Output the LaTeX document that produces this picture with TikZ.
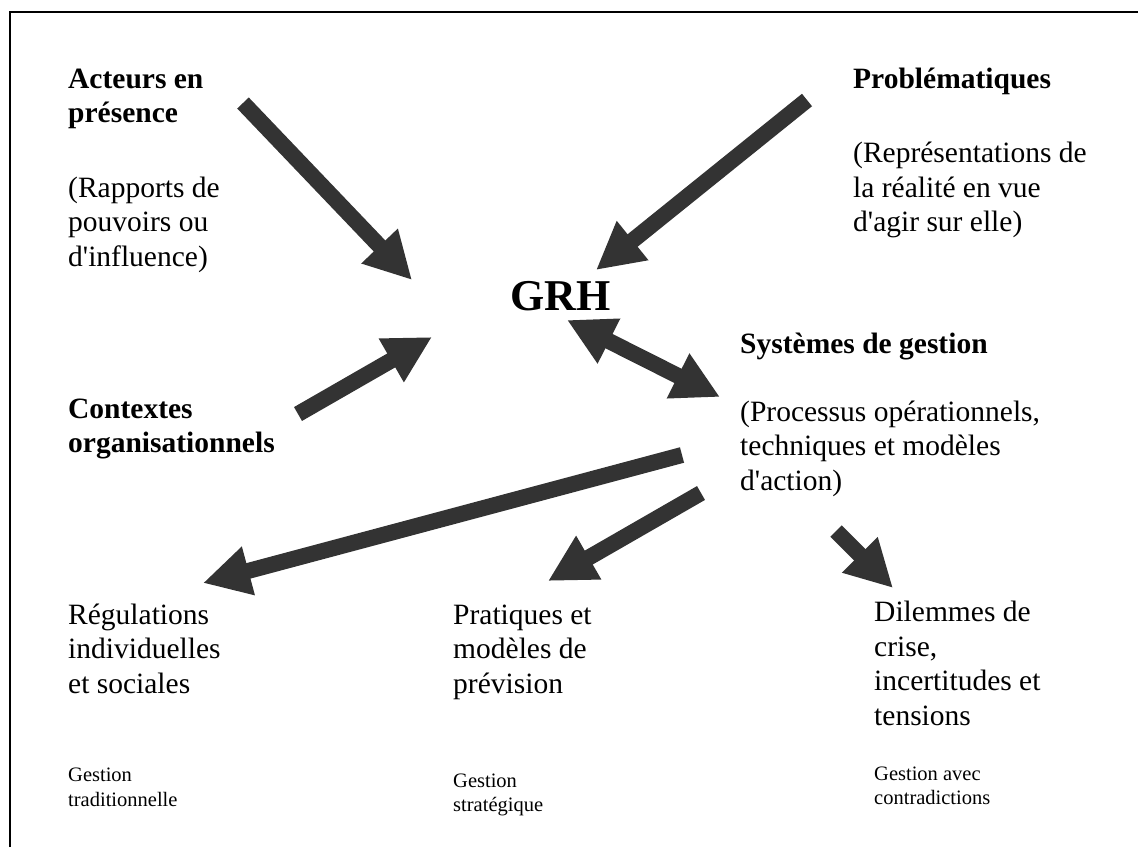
\documentclass[tikz,border=0pt]{standalone}
\usepackage{fontspec}
\setmainfont{Liberation Serif}
\usetikzlibrary{arrows.meta}
\tikzset{
	bloc/.style={anchor=base west, inner sep=0pt, align=left, font=\fontsize{29.5}{34.5}\selectfont},
	petit/.style={bloc, font=\fontsize{20.5}{24.5}\selectfont},
	pointe/.tip={Triangle[width=47pt,length=47pt]},
	fleche/.style={line width=16pt, draw=black!80, -pointe},
	fleche double/.style={fleche, pointe-pointe}
}
\newcommand{\apos}{\textquotesingle}
\begin{document}
\begin{tikzpicture}[x=1pt, y=-1pt]
			\useasboundingbox (0,0) rectangle (1138,847);
			\draw [line width=1.5pt] (10,847) -- (10,12) -- (1138,12);
			\node (acteurs) [bloc] at (68,266) {\textbf{Acteurs en}\\\textbf{présence}\\[40pt](Rapports de\\pouvoirs ou\\d\apos influence)};
			\node (problematiques) [bloc] at (853,231.5) {\textbf{Problématiques}\\[40pt](Représentations de\\la réalité en vue\\d\apos agir sur elle)};
			\node (grh) [bloc, font=\fontsize{44}{50}\selectfont\bfseries] at (510,310) {GRH};
			\node (contextes) [bloc] at (68,452.5) {\textbf{Contextes}\\\textbf{organisationnels}};
			\node (systemes) [bloc] at (740,490) {\textbf{Systèmes de gestion}\\[33.5pt](Processus opérationnels,\\techniques et modèles\\d\apos action)};
			\node (regulations) [bloc] at (68,693) {Régulations\\individuelles\\et sociales};
			\node (pratiques) [bloc] at (453,693) {Pratiques et\\modèles de\\prévision};
			\node (dilemmes) [bloc] at (874,725) {Dilemmes de\\crise,\\incertitudes et\\tensions};
			\node (traditionnelle) [petit] at (68,806) {Gestion\\traditionnelle};
			\node (strategique) [petit] at (453,811.5) {Gestion\\stratégique};
			\node (contradictions) [petit] at (874,804.5) {Gestion avec\\contradictions};
			\coordinate (acteurs-out) at (243,103);
			\coordinate (acteurs-in) at (412,280);
			\coordinate (problematiques-out) at (807,100);
			\coordinate (problematiques-in) at (596,270);
			\coordinate (contextes-out) at (298,414);
			\coordinate (contextes-in) at (432,337);
			\coordinate (grh-bout) at (567,320);
			\coordinate (systemes-bout) at (720,397);
			\coordinate (regulations-out) at (682,455);
			\coordinate (regulations-in) at (203,583);
			\coordinate (pratiques-out) at (701,493);
			\coordinate (pratiques-in) at (548,581);
			\coordinate (dilemmes-out) at (836,531);
			\coordinate (dilemmes-in) at (893,588);
			\draw [fleche] (acteurs-out) -- (acteurs-in);
			\draw [fleche] (problematiques-out) -- (problematiques-in);
			\draw [fleche] (contextes-out) -- (contextes-in);
			\draw [fleche double] (grh-bout) -- (systemes-bout);
			\draw [fleche] (regulations-out) -- (regulations-in);
			\draw [fleche] (pratiques-out) -- (pratiques-in);
			\draw [fleche] (dilemmes-out) -- (dilemmes-in);
		\end{tikzpicture}
\end{document}
